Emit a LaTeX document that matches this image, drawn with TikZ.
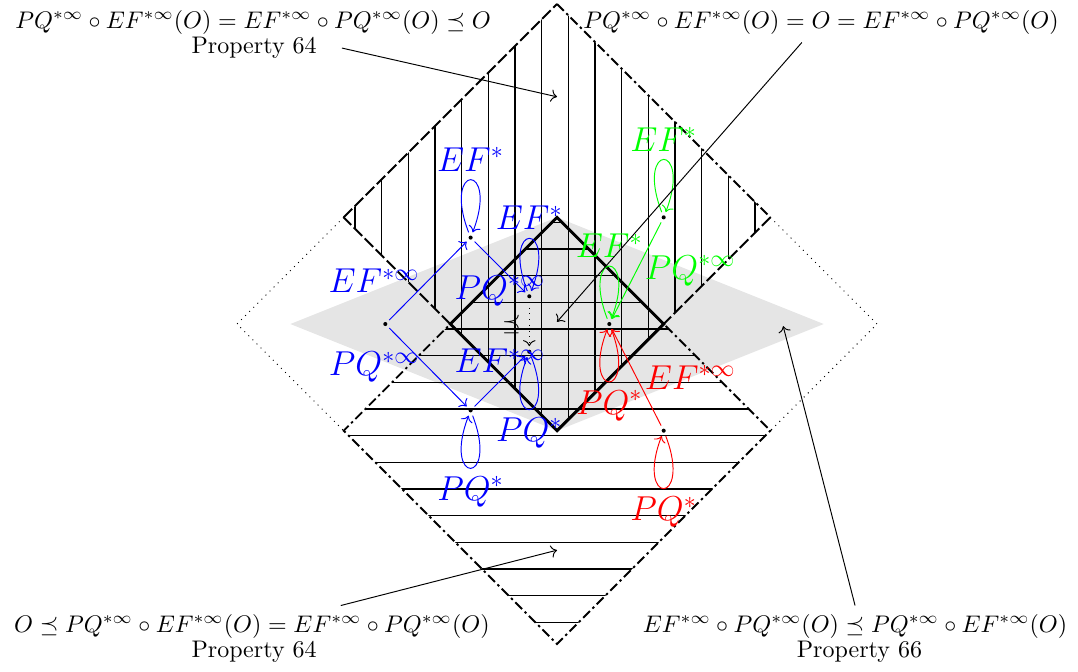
\documentclass[tikz,border=0pt]{standalone}
\usepackage{amsmath,amssymb}
\usetikzlibrary{arrows.meta,positioning}

\begin{document}
\begin{tikzpicture}[x=1.562cm,y=1.562cm,
		dot/.style={circle,fill=black,inner sep=0.6pt,outer sep=1.5pt},
		lab/.style={font=\Large},
		loopup/.style={loop above,out=111,in=69,min distance=1.1cm},
		loopdown/.style={loop below,out=291,in=249,min distance=1.1cm},
		dashline/.style={thick,dash pattern=on 5pt off 1.5pt},
		dotdashline/.style={thick,dash pattern=on 4pt off 1.5pt on 1pt off 1.5pt}]
			\useasboundingbox (-5.222,-3.253) rectangle (4.884,3.0375);
			\fill[gray!20] (-2.5,0) -- (0,1) -- (2.5,0) -- (0,-1) -- cycle;
			% hatching of the two cones
			\begin{scope}
				\clip (0,3) -- (2,1) -- (0,-1) -- (-2,1) -- cycle;
				\foreach \k in {0,...,15}
					\draw[semithick] (-1.894+0.25*\k,-1) -- ++(0,4);
			\end{scope}
			\begin{scope}
				\clip (0,1) -- (2,-1) -- (0,-3) -- (-2,-1) -- cycle;
				\foreach \k in {-11,...,4}
					\draw[semithick] (-2,-0.047+0.25*\k) -- ++(4,0);
			\end{scope}
			\draw[dashline] (-2,1) -- (0,3);
			\draw[dotdashline] (0,3) -- (2,1);
			\draw[dashline] (2,1) -- (0,-1) -- (-2,1);
			\draw[dotdashline] (0,1) -- (2,-1) -- (0,-3) -- (-2,-1) -- cycle;
			\draw[dotted] (-2,1) -- (-3,0) -- (-2,-1) (2,1) -- (3,0) -- (2,-1);
			\draw[very thick] (0,1) -- (1,0) -- (0,-1) -- (-1,0) -- cycle;
			% points
			\node[dot] (B1) at (-1.61,0) {};
			\node[dot] (B2) at (-0.81,0.81) {};
			\node[dot] (B3) at (-0.81,-0.81) {};
			\node[dot] (B4) at (-0.26,0.26) {};
			\node[dot] (B5) at (-0.26,-0.26) {};
			\node[dot] (G1) at (1,1) {};
			\node[dot] (M) at (0.49,0) {};
			\node[dot] (R1) at (1,-1) {};
			\draw[dotted,->] (B4) -- node[left]{$\preceq$} (B5);
			\begin{scope}[blue]
				\draw[->] (B1) -- node[left,lab]{$EF^{*\infty}$} (B2);
				\draw[->] (B1) -- node[left,lab]{$PQ^{*\infty}$} (B3);
				\draw[->] (B2) -- node[below,lab]{$PQ^{*\infty}$} (B4);
				\draw[->] (B3) -- node[above,lab]{$EF^{*\infty}$} (B5);
				\draw[->] (B2) to[loopup] node[above,lab]{$EF^*$} (B2);
				\draw[->] (B4) to[loopup] node[above,lab]{$EF^*$} (B4);
				\draw[->] (B3) to[loopdown] node[below,lab]{$PQ^*$} (B3);
				\draw[->] (B5) to[loopdown] node[below,lab]{$PQ^*$} (B5);
			\end{scope}
			\begin{scope}[green]
				\draw[->] (G1) -- node[right,lab]{$PQ^{*\infty}$} (M);
				\draw[->] (G1) to[loopup] node[above,lab]{$EF^*$} (G1);
				\draw[->] (M) to[loopup] node[above,lab]{$EF^*$} (M);
			\end{scope}
			\begin{scope}[red]
				\draw[->] (R1) -- node[right,lab]{$EF^{*\infty}$} (M);
				\draw[->] (R1) to[loopdown] node[below,lab]{$PQ^*$} (R1);
				\draw[->] (M) to[loopdown] node[below,lab]{$PQ^*$} (M);
			\end{scope}
			% properties
			\node (T1) at (-2.85,2.831) {$PQ^{*\infty}\circ EF^{*\infty}(O)=EF^{*\infty}\circ PQ^{*\infty}(O)\preceq O$};
			\node (P1) at (-2.84,2.587) {Property 64};
			\node (T2) at (2.475,2.831) {$PQ^{*\infty}\circ EF^{*\infty}(O)=O=EF^{*\infty}\circ PQ^{*\infty}(O)$};
			\node (T3) at (-2.86,-2.831) {$O\preceq PQ^{*\infty}\circ EF^{*\infty}(O)=EF^{*\infty}\circ PQ^{*\infty}(O)$};
			\node (P3) at (-2.84,-3.075) {Property 64};
			\node (T4) at (2.794,-2.831) {$EF^{*\infty}\circ PQ^{*\infty}(O)\preceq PQ^{*\infty}\circ EF^{*\infty}(O)$};
			\node (P4) at (2.835,-3.075) {Property 66};
			\coordinate (up) at (0,2.13);
			\coordinate (down) at (0,-2.12);
			\coordinate (mid) at (0,0.02);
			\coordinate (tip) at (2.12,-0.02);
			\draw[->] ([xshift=7pt]P1.east) -- (up);
			\draw[->] ([xshift=-8pt]T2.south) -- (mid);
			\draw[->] ([xshift=37pt]T3.north) -- (down);
			\draw[->] (T4.north) -- (tip);
		\end{tikzpicture}
\end{document}
